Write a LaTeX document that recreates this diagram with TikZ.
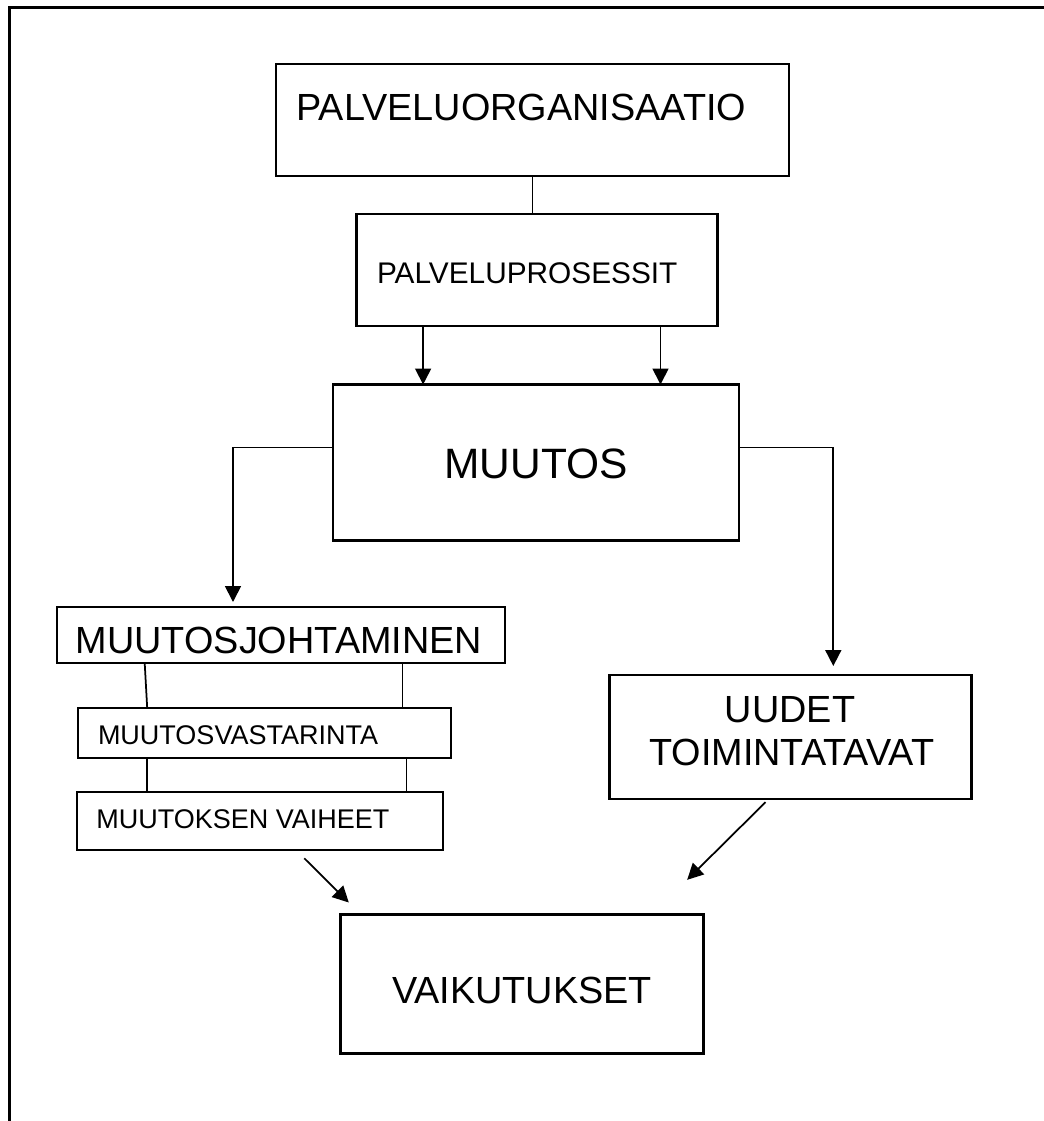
\documentclass[tikz,border=0pt]{standalone}
\usepackage{fontspec}
\setmainfont{Liberation Sans}
\usetikzlibrary{arrows.meta,calc}
\begin{document}
\begin{tikzpicture}[x=0.025cm,y=-0.025cm,
  frame/.style={line width=2.1pt},
  box/.style 2 args={draw, line width=1.6pt, inner sep=0pt, outer sep=0pt,
    minimum width=#1*0.025cm, minimum height=#2*0.025cm},
  link/.style={line width=1.25pt},
  arr/.style={link, -{Triangle[length=0.4cm,width=0.4cm]}},
  label/.style={inner sep=0pt, outer sep=0pt},
  t30/.style={label, font=\fontsize{30.2pt}{34pt}\selectfont},
  t26/.style={label, font=\fontsize{26.9pt}{31pt}\selectfont},
  t21/.style={label, font=\fontsize{21.2pt}{24pt}\selectfont},
  t19/.style={label, font=\fontsize{19.2pt}{22pt}\selectfont}]
\useasboundingbox (0,0) rectangle (1044,1121);

% page frame (top and left edges)
\coordinate (fbl) at (9.5,1121);
\coordinate (ftl) at (9.5,7.5);
\coordinate (ftr) at (1044,7.5);
\draw[frame] (fbl) -- (ftl) -- (ftr);

% boxes
\node[box={513}{112}] (org) at (532.5,120) {};
\node[box={361}{112}] (proc) at (537,270) {};
\node[box={406}{156}] (muutos) at (536,462.5) {};
\node[box={448}{56}] (johto) at (281,635) {};
\node[box={373}{50}] (vasta) at (264.7,733) {};
\node[box={366}{58}] (vaiheet) at (260,821) {};
\node[box={362}{124}] (uudet) at (790.5,737) {};
\node[box={363}{139}] (vaik) at (522,984) {};

% box texts
\node[t26, anchor=base west] (orgtxt) at (296.5,120.7) {PALVELUORGANISAATIO};
\node[t21, anchor=base west] (proctxt) at (377,283.3) {PALVELUPROSESSIT};
\node[t30, anchor=base] (muutostxt) at (536,478) {MUUTOS};
\node[t26, anchor=base] (johtotxt) at (279,653.3) {MUUTOSJOHTAMINEN};
\node[t19, anchor=base west] (vastatxt) at (98,744) {MUUTOSVASTARINTA};
\node[t19, anchor=base west] (vaiheettxt) at (96.3,828.3) {MUUTOKSEN VAIHEET};
\node[t26, anchor=base] (uudettxta) at (790,722.3) {UUDET};
\node[t26, anchor=base] (uudettxtb) at (791.7,765) {TOIMINTATAVAT};
\node[t26, anchor=base] (vaiktxt) at (522,1003.3) {VAIKUTUKSET};

% connectors
\draw[link] (org.south) -- (org.south |- proc.north);
\draw[arr] ($(proc.south west)+(66.6,0)$) coordinate (pa) -- (pa |- muutos.north);
\draw[arr] ($(proc.south west)+(304,0)$) coordinate (pb) -- (pb |- muutos.north);
\draw[arr] ($(muutos.west)+(0,-15)$) -| ($(johto.north)+(-48,-5)$);
\draw[arr] ($(muutos.east)+(0,-15)$) -| ($(uudet.north)+(42.8,-9)$);
\draw[link] ($(johto.south west)+(87.7,0)$) -- ($(vasta.north west)+(69,0)$);
\draw[link] ($(johto.south west)+(345.4,0)$) coordinate (jb) -- (jb |- vasta.north);
\draw[link] ($(vasta.south west)+(69,0)$) coordinate (va) -- (va |- vaiheet.north);
\draw[link] ($(vasta.south west)+(328.4,0)$) coordinate (vb) -- (vb |- vaiheet.north);
\draw[arr] ($(vaiheet.south)+(44.3,8.3)$) -- ($(vaik.north west)+(8.3,-12)$);
\draw[arr] ($(uudet.south)+(-25,3.2)$) -- ($(vaik.north east)+(-16.3,-34.7)$);
\end{tikzpicture}
\end{document}
